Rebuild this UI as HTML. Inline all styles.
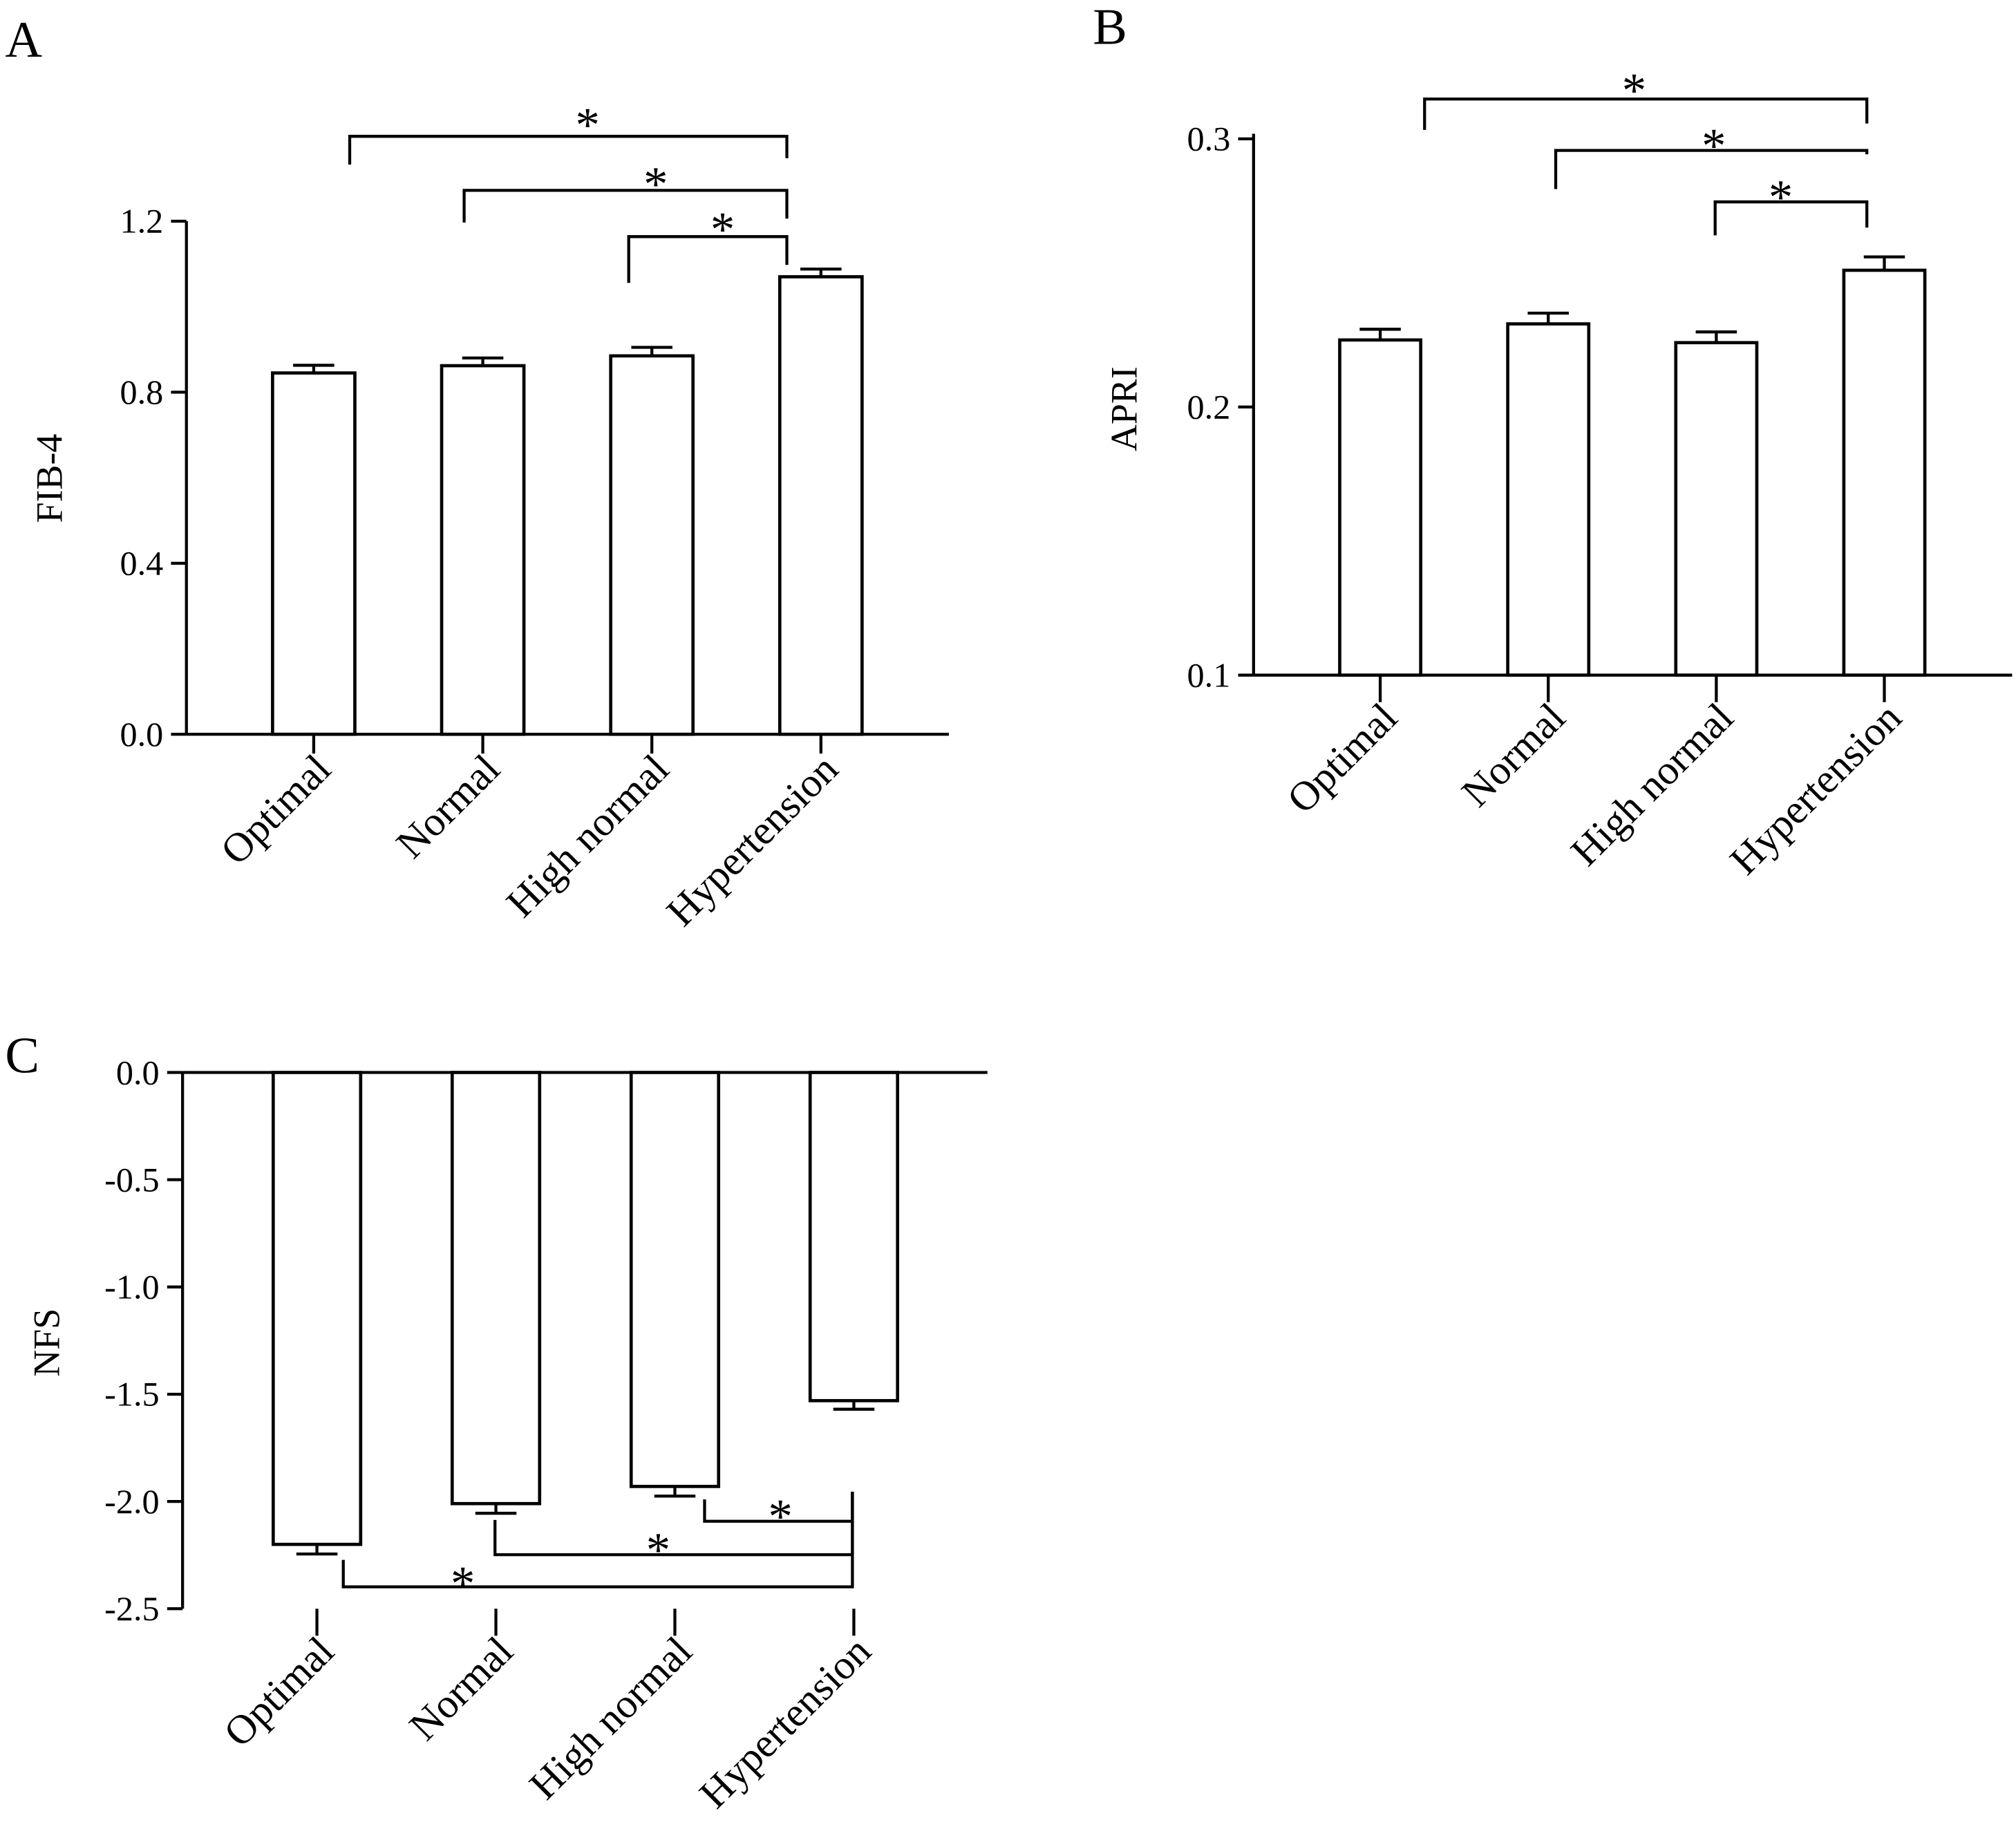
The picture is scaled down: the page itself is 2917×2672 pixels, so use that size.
<!DOCTYPE html>
<html><head><meta charset="utf-8">
<style>
html,body{margin:0;padding:0;background:#fff;}
svg{display:block;font-family:"Liberation Serif",serif;}
</style></head>
<body>
<svg id="fig" width="2917" height="2672" viewBox="0 0 1568 1436.3" preserveAspectRatio="none" xmlns="http://www.w3.org/2000/svg"></svg>
<script>
const categories = ["Optimal","Normal","High normal","Hypertension"];
const fibValues = [0.845,0.862,0.885,1.07];
const fibErrors = [0.018,0.018,0.02,0.018];
const fibTicks = [0.0,0.4,0.8,1.2];
const apriValues = [0.225,0.231,0.224,0.251];
const apriErrors = [0.004,0.004,0.004,0.005];
const apriTicks = [0.1,0.2,0.3];
const nfsValues = [-2.2,-2.01,-1.93,-1.53];
const nfsErrors = [0.045,0.045,0.045,0.04];
const nfsTicks = [0.0,-0.5,-1.0,-1.5,-2.0,-2.5];

const svg = document.getElementById('fig');
const NS = 'http://www.w3.org/2000/svg';
function mk(tag, attrs, parent){
  const e = document.createElementNS(NS, tag);
  for (const k in attrs) e.setAttribute(k, attrs[k]);
  (parent||svg).appendChild(e);
  return e;
}
function line(x1,y1,x2,y2,p){return mk('line',{x1,y1,x2,y2,stroke:'#000','stroke-width':2.3},p);}
function txt(x,y,s,size,anchor,p,extra){
  const t = mk('text',Object.assign({x,y,'font-size':size,'text-anchor':anchor||'middle',fill:'#000'},extra||{}),p);
  t.textContent = s; return t;
}

function panel(cfg){
  const g = mk('g',{});
  
  
  const yScale = v => cfg.y0 + (v - cfg.v0) * (cfg.y1 - cfg.y0) / (cfg.v1 - cfg.v0);
  const base = cfg.baseVal;
  const L = txt(cfg.letter[0], cfg.letter[1], cfg.letter[2], 40, 'start', g);
  
  
  const ya = line(cfg.axisX, cfg.yTop, cfg.axisX, cfg.yBot, g);
  
  
  cfg.ticks.forEach(v => {
    const y = yScale(v);
    line(cfg.axisX - 12, y, cfg.axisX, y, g);
    const t = txt(cfg.axisX - 18, y + 9, v.toFixed(1), 27, 'end', g);
    
    
  });
  const yt = txt(0, 0, cfg.ytitle, 29, 'middle', g, {transform:`translate(${cfg.ytitlePos[0]},${cfg.ytitlePos[1]}) rotate(-90)`});
  
  
  const by = yScale(base);
  const xa = line(cfg.axisX, by, cfg.xEnd, by, g);
  
  
  categories.forEach((c, i) => {
    const cx = cfg.x0 + i * cfg.step;
    const v = cfg.values[i], e = cfg.errors[i];
    const yv = yScale(v);
    const r = mk('rect',{x:cx - cfg.bw/2, y:Math.min(yv,by), width:cfg.bw, height:Math.abs(by-yv), fill:'#fff', stroke:'#000','stroke-width':2.5}, g);
    
    
    const ve = v + (v < 0 ? -e : e);
    const ye = yScale(ve);
    line(cx, yv, cx, ye, g);
    line(cx - 16, ye, cx + 16, ye, g);
    const ty1 = cfg.catTickY0, ty2 = cfg.catTickY1;
    line(cx, ty1, cx, ty2, g);
    const lab = txt(0, 0, c, 32, 'end', g, {transform:`translate(${cx + 15},${ty2 + 14}) rotate(-45)`});
    
    
  });
  cfg.brackets.forEach(b => {
    const bg = mk('g',{}, g);
    
    
    mk('polyline',{points:`${b.x1},${b.e1} ${b.x1},${b.y} ${b.x2},${b.y} ${b.x2},${b.e2}`, fill:'none', stroke:'#000','stroke-width':2.3}, bg);
    txt(b.sx, b.sy, '*', 38, 'middle', bg);
  });
}

panel({name:'panel-a-fib4', letter:[4,44,'A'], axisX:145, yTop:172, yBot:571, y0:571, v0:0, y1:172, v1:1.2,
  ticks:fibTicks, ytitle:'FIB-4', ytitlePos:[48,372], baseVal:0, xEnd:738,
  x0:244, step:131.5, bw:64, values:fibValues, errors:fibErrors, catTickY0:571, catTickY1:586,
  brackets:[
    {x1:272,x2:612,y:106,e1:128,e2:123,sx:457,sy:110},
    {x1:361,x2:612,y:148,e1:173,e2:170,sx:510,sy:156},
    {x1:489,x2:612,y:184,e1:220,e2:206,sx:562,sy:191}
  ]});

panel({name:'panel-b-apri', letter:[850,34,'B'], axisX:975, yTop:104, yBot:525, y0:525, v0:0.1, y1:108, v1:0.3,
  ticks:apriTicks, ytitle:'APRI', ytitlePos:[884,318], baseVal:0.1, xEnd:1565,
  x0:1073.5, step:130.7, bw:63, values:apriValues, errors:apriErrors, catTickY0:525, catTickY1:546,
  brackets:[
    {x1:1108,x2:1452,y:77,e1:101,e2:96,sx:1271,sy:83},
    {x1:1210,x2:1452,y:117,e1:147,e2:120,sx:1333,sy:126},
    {x1:1334,x2:1452,y:157,e1:183,e2:177,sx:1385,sy:166}
  ]});

panel({name:'panel-c-nfs', letter:[4,834,'C'], axisX:142, yTop:834, yBot:1251, y0:834, v0:0, y1:1251, v1:-2.5,
  ticks:nfsTicks, ytitle:'NFS', ytitlePos:[46,1044], baseVal:0, xEnd:768,
  x0:246.5, step:139.2, bw:68, values:nfsValues, errors:nfsErrors, catTickY0:1251, catTickY1:1272,
  brackets:[
    {x1:267,x2:663,y:1234,e1:1213,e2:1160,sx:360,sy:1244},
    {x1:385,x2:663,y:1209,e1:1182,e2:1160,sx:512,sy:1218},
    {x1:548,x2:663,y:1183,e1:1166,e2:1160,sx:607,sy:1192}
  ]});
</script>
</body></html>
